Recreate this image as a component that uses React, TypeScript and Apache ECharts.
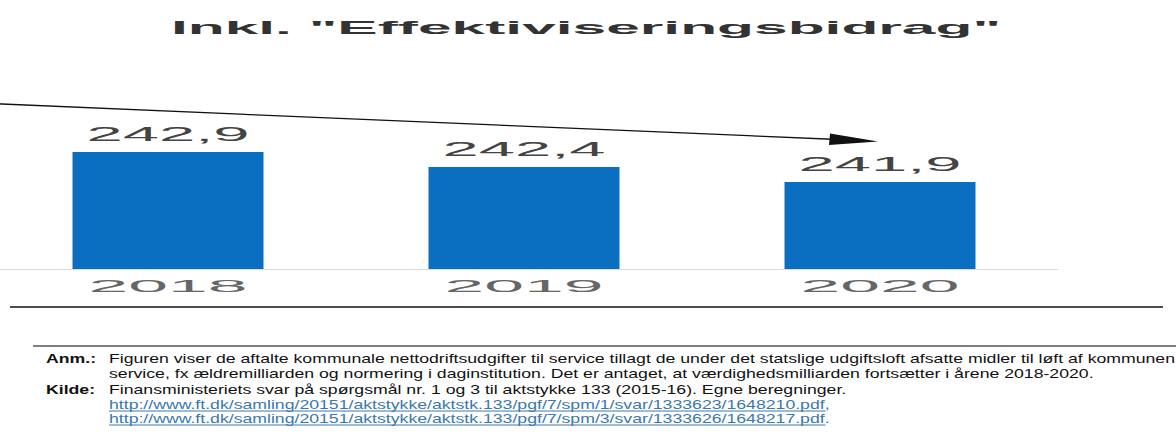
import React, { useEffect, useRef } from "react";
import * as echarts from "echarts";

// Kommunale nettodriftsudgifter til service (mia. kr.), incl. effektiviseringsbidrag
const years = ["2018", "2019", "2020"];
const spending = [242.9, 242.4, 241.9];
const yMin = 239;
const yMax = 246;

const title = 'Inkl. "Effektiviseringsbidrag"';
const noteLabel = "Anm.:";
const noteLines = [
  "Figuren viser de aftalte kommunale nettodriftsudgifter til service tillagt de under det statslige udgiftsloft afsatte midler til løft af kommunen",
  "service, fx ældremilliarden og normering i daginstitution. Det er antaget, at værdighedsmilliarden fortsætter i årene 2018-2020.",
];
const sourceLabel = "Kilde:";
const sourceText =
  "Finansministeriets svar på spørgsmål nr. 1 og 3 til aktstykke 133 (2015-16). Egne beregninger.";
const links = [
  "http://www.ft.dk/samling/20151/aktstykke/aktstk.133/pgf/7/spm/1/svar/1333623/1648210.pdf",
  "http://www.ft.dk/samling/20151/aktstykke/aktstk.133/pgf/7/spm/3/svar/1333626/1648217.pdf",
];
const linkTails = [",", "."];

const FONT = '"Liberation Sans", Arial, sans-serif';
const NOTE_SIZE = 13;
const NOTE_STRETCH = 1.36;
// the canvas starts slightly left of the page so the first category band can begin off-screen
const DX = 10;

function measure(text: string, font: string): number {
  const ctx = document.createElement("canvas").getContext("2d");
  if (!ctx) return text.length * 7;
  ctx.font = font;
  return ctx.measureText(text).width;
}

export default function App() {
  const ref = useRef<HTMLDivElement>(null);

  useEffect(() => {
    if (!ref.current) return;
    const chart = echarts.init(ref.current, null, { renderer: "svg" });

    const noteX = 109 + DX;
    const rowY = [358, 373, 389, 404, 418];
    const noteFont = `${NOTE_SIZE}px ${FONT}`;

    const noteText = (x: number, y: number, text: string, font: string, fill = "#111") => ({
      type: "text",
      x,
      y,
      scaleX: NOTE_STRETCH,
      style: { text, font, fill, verticalAlign: "middle" },
    });

    const footnote: any[] = [
      {
        type: "line",
        shape: { x1: 33 + DX, y1: 346, x2: 1176 + DX, y2: 346 },
        style: { stroke: "#555", lineWidth: 1.5 },
      },
      noteText(46 + DX, rowY[0], noteLabel, `bold ${noteFont}`),
      noteText(46 + DX, rowY[2], sourceLabel, `bold ${noteFont}`),
      noteText(noteX, rowY[0], noteLines[0], noteFont),
      noteText(noteX, rowY[1], noteLines[1], noteFont),
      noteText(noteX, rowY[2], sourceText, noteFont),
    ];
    links.forEach((url, i) => {
      const y = rowY[3 + i];
      const w = measure(url, noteFont) * NOTE_STRETCH;
      footnote.push(noteText(noteX, y, url + linkTails[i], noteFont, "#3a78ad"), {
        type: "line",
        shape: { x1: noteX, y1: y + 7, x2: noteX + w, y2: y + 7 },
        style: { stroke: "#3a78ad", lineWidth: 1 },
      });
    });

    chart.setOption({
      animation: false,
      backgroundColor: "#ffffff",
      grid: { left: 0, right: 118, top: 59, bottom: 167, containLabel: false },
      xAxis: {
        type: "category",
        data: years,
        axisLine: { show: true, lineStyle: { color: "#dcdcdc", width: 1 } },
        axisTick: { show: false },
        axisLabel: { show: false },
      },
      yAxis: {
        type: "value",
        min: yMin,
        max: yMax,
        show: false,
        splitLine: { show: false },
      },
      series: [
        {
          type: "bar",
          data: spending,
          barWidth: 191,
          itemStyle: { color: "#0a6fc0" },
        },
        {
          // stretched value and year labels, placed through the axes
          type: "custom",
          data: spending.map((v, i) => [i, v]),
          encode: { x: 0, y: 1 },
          z: 5,
          renderItem: (params: any, api: any) => {
            const i = api.value(0);
            const v = api.value(1);
            const top = api.coord([i, v]);
            const base = api.coord([i, yMin]);
            return {
              type: "group",
              children: [
                {
                  type: "text",
                  x: top[0],
                  y: top[1] - 18,
                  scaleX: 3.1,
                  style: {
                    text: v.toFixed(1).replace(".", ","),
                    font: `21px ${FONT}`,
                    fill: "#444",
                    align: "center",
                    verticalAlign: "middle",
                  },
                },
                {
                  type: "text",
                  x: base[0],
                  y: base[1] + 17,
                  scaleX: 4.2,
                  style: {
                    text: years[i],
                    font: `17px ${FONT}`,
                    fill: "#666",
                    align: "center",
                    verticalAlign: "middle",
                  },
                },
              ],
            };
          },
        },
      ],
      graphic: [
        {
          type: "text",
          x: 586 + DX,
          y: 28,
          scaleX: 3.36,
          style: {
            text: title,
            font: `bold 18px ${FONT}`,
            fill: "#333",
            align: "center",
            verticalAlign: "middle",
          },
        },
        // trend arrow
        {
          type: "line",
          shape: { x1: 0, y1: 103.5, x2: 838 + DX, y2: 139.5 },
          style: { stroke: "#111", lineWidth: 1.3 },
        },
        {
          type: "polygon",
          shape: {
            points: [
              [878 + DX, 141.5],
              [830 + DX, 133.5],
              [829 + DX, 145],
            ],
          },
          style: { fill: "#111" },
        },
        {
          type: "line",
          shape: { x1: 10 + DX, y1: 307, x2: 1163 + DX, y2: 307 },
          style: { stroke: "#111", lineWidth: 1.5 },
        },
        ...footnote,
      ],
    });

    return () => chart.dispose();
  }, []);

  return (
    <div
      ref={ref}
      style={{
        position: "fixed",
        left: -DX,
        top: 0,
        width: 1176 + DX,
        height: 436,
        background: "#fff",
      }}
    />
  );
}
